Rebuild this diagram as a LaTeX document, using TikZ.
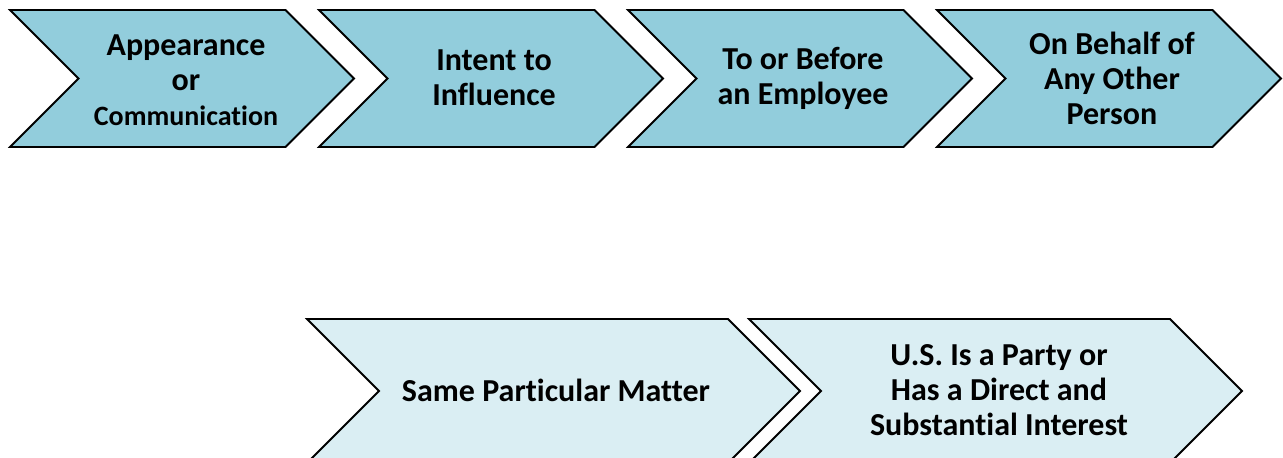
\documentclass[tikz,border=0pt]{standalone}
\usepackage{fontspec}
\setmainfont{Carlito}[Ligatures=NoCommon]
\definecolor{chevdark}{HTML}{92CDDC}
\definecolor{chevlight}{HTML}{DAEEF3}
\tikzset{
  chevbox/.style={draw=black, line width=1.8pt, line join=miter},
  chevtext/.style={align=center, font=\bfseries\fontsize{32}{35}\selectfont, inner sep=0pt}
}
% #1 left, #2 top, #3 width, #4 height, #5 fill
\newcommand\chevpath[5]{%
  \pgfmathsetmacro\cd{#4/2}%
  \draw[chevbox, fill=#5] (#1,#2) -- ({#1+#3-\cd},#2) -- ({#1+#3},{#2+\cd}) -- ({#1+#3-\cd},{#2+#4}) -- (#1,{#2+#4}) -- ({#1+\cd},{#2+\cd}) -- cycle;%
}
\begin{document}
\begin{tikzpicture}[x=1pt,y=-1pt]
\useasboundingbox (0,0) rectangle (1283,458);
\clip (0,0) rectangle (1283,458);
\chevpath{10}{10}{344}{137}{chevdark}
\chevpath{319}{10}{344}{137}{chevdark}
\chevpath{628}{10}{344}{137}{chevdark}
\chevpath{937}{10}{344}{137}{chevdark}
\chevpath{307}{319}{493}{144}{chevlight}
\chevpath{749}{319}{493}{144}{chevlight}
\node[chevtext] (t1) at (186,80) {Appearance\\or\\{\fontsize{28}{32}\selectfont Communication}};
\node[chevtext] (t2) at (494,78) {Intent to\\Influence};
\node[chevtext] (t3) at (803,78) {To or Before\\an Employee};
\node[chevtext] (t4) at (1112,78) {On Behalf of\\Any Other\\Person};
\node[chevtext] (b1) at (556,390) {Same Particular Matter};
\node[chevtext] (b2) at (999,390) {U.S. Is a Party or\\Has a Direct and\\Substantial Interest};
\end{tikzpicture}
\end{document}
